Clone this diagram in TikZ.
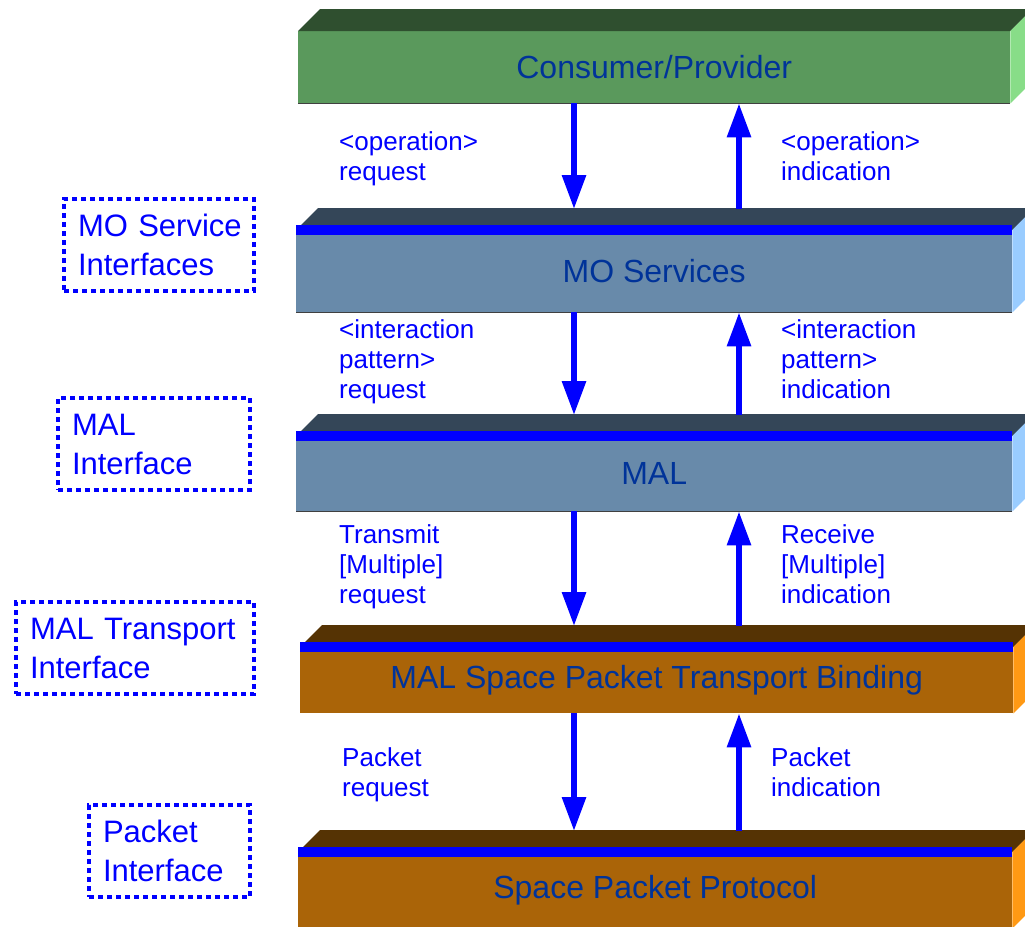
\documentclass[tikz,border=0pt]{standalone}
\usepackage{fontspec}
\setmainfont{Liberation Sans}
\usepackage{tikz}
\usetikzlibrary{arrows.meta,calc}

\definecolor{txtblue}{RGB}{0,51,153}
\definecolor{cptop}{RGB}{47,79,47}
\definecolor{cpfront}{RGB}{90,153,92}
\definecolor{cpside}{RGB}{136,221,136}
\definecolor{mostop}{RGB}{52,70,88}
\definecolor{mosfront}{RGB}{104,138,170}
\definecolor{mosside}{RGB}{153,204,255}
\definecolor{brtop}{RGB}{85,51,4}
\definecolor{brfront}{RGB}{170,100,8}
\definecolor{brside}{RGB}{255,153,20}

\tikzset{
    layer/.style={anchor=north west, inner sep=0pt, text=txtblue,
        font=\fontsize{32}{38}\selectfont},
    ifbox/.style={anchor=north west, draw=blue, line width=4pt,
        dash pattern=on 5pt off 4pt, text=blue, align=left, inner xsep=14pt,
        minimum height=92pt, font=\fontsize{31}{39}\selectfont},
    lbl/.style={anchor=west, inner sep=0pt, text=blue, align=left,
        font=\fontsize{26}{30}\selectfont,
        execute at begin node=\strut, execute at end node=\strut},
    flow/.style={draw=blue, line width=6pt, -{Triangle[width=23pt,length=34pt]}}
}

\begin{document}
\begin{tikzpicture}[x=1pt, y=-1pt]
            \useasboundingbox (0, 0) rectangle (1025, 926);
            \node[layer, fill=cpfront, minimum width=712pt, minimum height=72pt] (cp) at (298, 31) {Consumer/Provider};
            \node[layer, fill=mosfront, minimum width=716pt, minimum height=82pt] (mos) at (296, 230) {MO Services};
            \node[layer, fill=mosfront, minimum width=716pt, minimum height=75pt] (mal) at (296, 436) {MAL};
            \node[layer, fill=brfront, minimum width=713pt, minimum height=66pt] (sptb) at (300, 647) {MAL Space Packet Transport Binding};
            \node[layer, fill=brfront, minimum width=714pt, minimum height=76pt] (spp) at (298, 852) {Space Packet Protocol};
            \foreach \n/\t/\s in {cp/cptop/cpside, mos/mostop/mosside, mal/mostop/mosside, sptb/brtop/brside, spp/brtop/brside} {
                \fill[\t] (\n.north west) -- ++(22, -22) -- ([shift={(22, -22)}]\n.north east) -- (\n.north east) -- cycle;
                \fill[\s] (\n.north east) -- ++(22, -22) -- ([shift={(22, -22)}]\n.south east) -- (\n.south east) -- cycle;
            }
            \foreach \n in {cp, mos, mal}
                \draw[line width=1.2pt, black!75] (\n.south west) -- (\n.south east);
            \foreach \n in {mos, mal, sptb, spp}
                \fill[blue] ([yshift=5pt]\n.north west) rectangle ([yshift=-5pt]\n.north east);

            \node[ifbox, text width=162pt] (mosif) at (62, 197) {\mbox{MO Service}\\Interfaces};
            \node[ifbox, text width=164pt] (malif) at (56, 396) {MAL\\Interface};
            \node[ifbox, text width=210pt] (transif) at (14, 600) {\mbox{MAL Transport}\\Interface};
            \node[ifbox, text width=133pt] (pktif) at (87, 803) {Packet\\Interface};

            \coordinate (dn) at (574, 0);
            \coordinate (up) at (739, 0);
            \foreach \a/\b in {cp/mos, mos/mal, mal/sptb, sptb/spp} {
                \draw[flow] (\a.south -| dn) -- ($(\b.north -| dn)+(0, -21)$);
                \draw[flow] ($(\b.north -| up)+(0, -21)$) -- (\a.south -| up);
            }

            \node[lbl] (opreq) at (339, 161) {<operation>\\request};
            \node[lbl] (opind) at (781, 161) {<operation>\\indication};
            \node[lbl] (ipreq) at (339, 364) {<interaction\\pattern>\\request};
            \node[lbl] (ipind) at (781, 364) {<interaction\\pattern>\\indication};
            \node[lbl] (txreq) at (339, 569) {Transmit\\{[Multiple]}\\request};
            \node[lbl] (rxind) at (781, 569) {Receive\\{[Multiple]}\\indication};
            \node[lbl] (pkreq) at (342, 777) {Packet\\request};
            \node[lbl] (pkind) at (771, 777) {Packet\\indication};
\end{tikzpicture}
\end{document}
